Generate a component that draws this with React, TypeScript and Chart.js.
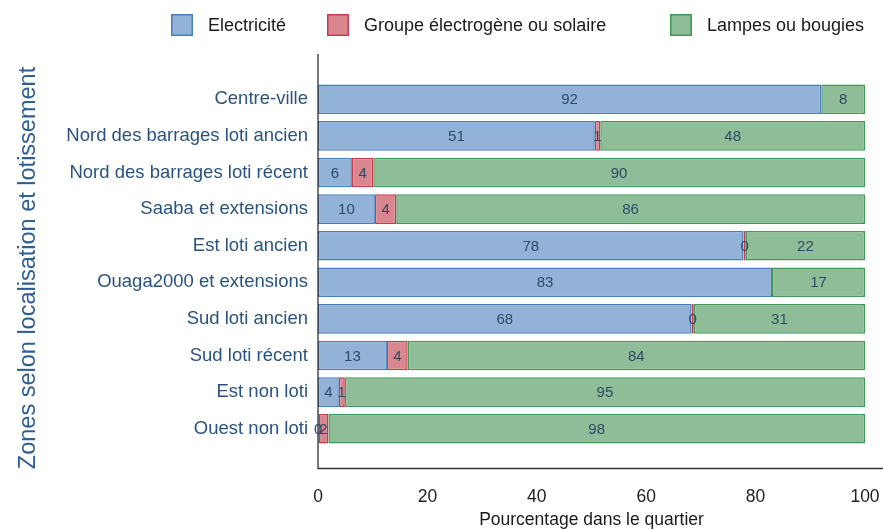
import React, { useEffect, useRef } from 'react';
import { Chart, registerables } from 'chart.js';

Chart.register(...registerables);

const categories = [
  'Centre-ville',
  'Nord des barrages loti ancien',
  'Nord des barrages loti récent',
  'Saaba et extensions',
  'Est loti ancien',
  'Ouaga2000 et extensions',
  'Sud loti ancien',
  'Sud loti récent',
  'Est non loti',
  'Ouest non loti',
];

const electricite = [92.0, 50.6, 6.2, 10.4, 77.8, 83.0, 68.3, 12.6, 3.8, 0.1];
const groupe = [0, 1.0, 3.9, 3.9, 0.4, 0, 0.4, 3.8, 1.1, 1.8];
const lampes = [8.0, 48.4, 89.9, 85.7, 21.8, 17.0, 31.3, 83.6, 95.1, 98.1];

const seriesNames = ['Electricité', 'Groupe électrogène ou solaire', 'Lampes ou bougies'];
const xTickValues = [0, 20, 40, 60, 80, 100];
const yTitle = 'Zones selon localisation et lotissement';
const xTitle = 'Pourcentage dans le quartier';

const FONT = '"Liberation Sans", Arial, Helvetica, sans-serif';
const fills = ['#92b3d7', '#d9868f', '#8fbd97'];
const borders = ['#4a7dbd', '#c73b4f', '#3f9a58'];
const legendX = [171, 327, 670];

export default function App() {
  const ref = useRef<HTMLCanvasElement | null>(null);

  useEffect(() => {
    const canvas = ref.current;
    if (!canvas) return;

    const extrasPlugin = {
      id: 'extras',
      afterDraw(chart: any) {
        const ctx = chart.ctx as CanvasRenderingContext2D;
        const ca = chart.chartArea;
        ctx.save();

        // axis lines
        ctx.strokeStyle = '#333333';
        ctx.lineWidth = 1.3;
        ctx.beginPath();
        ctx.moveTo(ca.left, ca.top - 27);
        ctx.lineTo(ca.left, ca.bottom + 21.5);
        ctx.lineTo(ca.right + 18, ca.bottom + 21.5);
        ctx.stroke();

        // data labels
        ctx.font = `15px ${FONT}`;
        ctx.fillStyle = '#2e4a68';
        ctx.textAlign = 'center';
        ctx.textBaseline = 'middle';
        chart.data.datasets.forEach((ds: any, di: number) => {
          const meta = chart.getDatasetMeta(di);
          meta.data.forEach((bar: any, i: number) => {
            const v = ds.data[i];
            if (!(v > 0)) return;
            const cx = (bar.x + bar.base) / 2;
            ctx.fillText(String(Math.round(v)), cx, bar.y + 1);
          });
        });

        // legend
        ctx.textAlign = 'left';
        ctx.font = `18px ${FONT}`;
        chart.data.datasets.forEach((ds: any, di: number) => {
          const x = legendX[di];
          ctx.fillStyle = ds.backgroundColor;
          ctx.fillRect(x, 14, 22, 22);
          ctx.strokeStyle = ds.borderColor;
          ctx.lineWidth = 1.5;
          ctx.strokeRect(x + 0.75, 14.75, 20.5, 20.5);
          ctx.fillStyle = '#1a1a1a';
          ctx.fillText(ds.label, x + 37, 26);
        });

        // x title
        ctx.textAlign = 'center';
        ctx.fillStyle = '#1a1a1a';
        ctx.font = `17.5px ${FONT}`;
        ctx.fillText(xTitle, (ca.left + ca.right) / 2, 520);

        // y title
        ctx.translate(29, 268);
        ctx.rotate(-Math.PI / 2);
        ctx.fillStyle = '#2f5f92';
        ctx.font = `23.5px ${FONT}`;
        ctx.fillText(yTitle, 0, 0);

        ctx.restore();
      },
    };

    const data = [electricite, groupe, lampes];
    const chart = new Chart(canvas, {
      type: 'bar',
      data: {
        labels: categories,
        datasets: seriesNames.map((name, i) => ({
          label: name,
          data: data[i],
          backgroundColor: fills[i],
          borderColor: borders[i],
          borderWidth: 1.5,
          borderSkipped: false,
          barPercentage: 0.81,
          categoryPercentage: 1,
        })),
      },
      options: {
        indexAxis: 'y',
        responsive: false,
        animation: false,
        maintainAspectRatio: false,
        layout: { padding: { top: 81, right: 18, bottom: 0, left: 0 } },
        plugins: {
          legend: { display: false },
          tooltip: { enabled: false },
          title: { display: false },
        },
        scales: {
          x: {
            type: 'linear',
            stacked: true,
            min: 0,
            max: 100,
            afterBuildTicks: (s: any) => {
              s.ticks = xTickValues.map((v) => ({ value: v }));
            },
            grid: { display: false, drawTicks: false },
            border: { display: false },
            ticks: {
              color: '#222222',
              font: { size: 17.5, family: FONT },
              padding: 40,
              maxRotation: 0,
            },
            afterFit: (s: any) => {
              s.height = 82;
              s.paddingLeft = 0;
              s.paddingRight = 0;
            },
          },
          y: {
            type: 'category',
            stacked: true,
            offset: true,
            grid: { display: false, drawTicks: false },
            border: { display: false },
            ticks: {
              color: '#2a5380',
              font: { size: 18.5, family: FONT },
              padding: 10,
            },
            afterFit: (s: any) => {
              s.width = 318;
              s.paddingTop = 0;
              s.paddingBottom = 0;
            },
          },
        },
      },
      plugins: [extrasPlugin],
    });

    return () => chart.destroy();
  }, []);

  return (
    <div style={{ position: 'fixed', left: 0, top: 0, width: 883, height: 529, background: '#ffffff' }}>
      <canvas ref={ref} width={883} height={529} style={{ display: 'block' }} />
    </div>
  );
}
